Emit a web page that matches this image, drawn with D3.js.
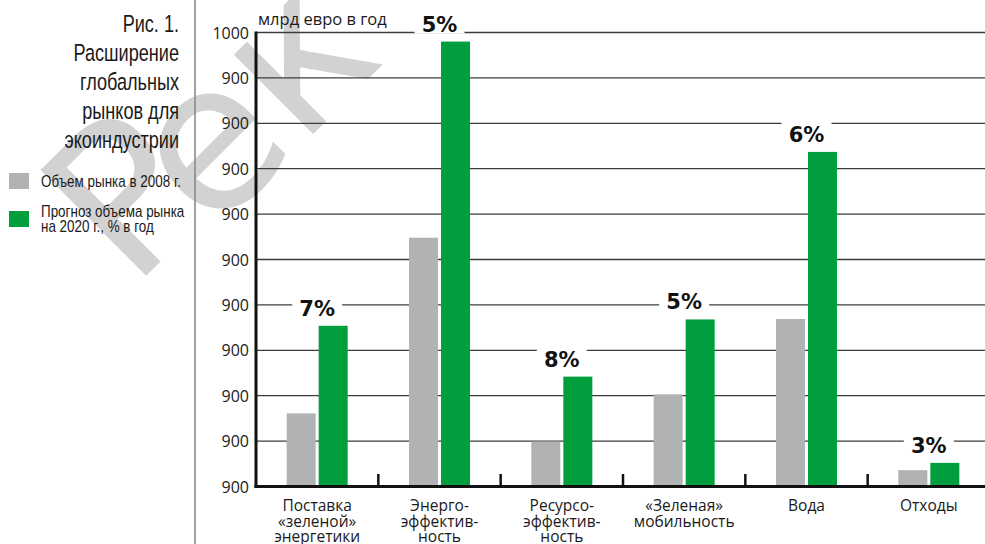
<!DOCTYPE html>
<html><head><meta charset="utf-8">
<script src="https://cdn.jsdelivr.net/npm/d3@7"></script>
<style>
html,body{margin:0;padding:0;background:#fff;}
svg{display:block;}
</style></head>
<body>
<svg id="chart" width="985" height="544"></svg>
<script>
const categories = [
  ["Поставка", "«зеленой»", "энергетики"],
  ["Энерго-", "эффектив-", "ность"],
  ["Ресурсо-", "эффектив-", "ность"],
  ["«Зеленая»", "мобильность"],
  ["Вода"],
  ["Отходы"]
];
const values2008 = [161, 548, 99, 203, 369, 36];
const values2020 = [354, 980, 242, 368, 737, 52];
const growthLabels = ["7%", "5%", "8%", "5%", "6%", "3%"];
const tickValues = [0, 100, 200, 300, 400, 500, 600, 700, 800, 900, 1000];
const tickLabels = ["900", "900", "900", "900", "900", "900", "900", "900", "900", "900", "1000"];
const titleLines = ["Рис. 1.", "Расширение", "глобальных", "рынков для", "экоиндустрии"];
const legendLabels = [["Объем рынка в 2008 г."], ["Прогноз объема рынка", "на 2020 г., % в год"]];
const seriesColors = ["#b1b2b4", "#009e3d"];
const unitLabel = "млрд евро в год";
const watermarkLetters = ["Р", "ек"];

const svg = d3.select("#chart");
const narrow = "'Liberation Sans', Arial, sans-serif";
const sans = "'Open Sans', 'Liberation Sans', sans-serif";
const heavy = "'DejaVu Sans', sans-serif";

// watermark
const wm = svg.append("text")
  .attr("transform", "translate(132,290) rotate(-45)")
  .attr("font-family", "'DejaVu Sans', sans-serif")
  .attr("font-size", 205)
  .attr("fill", "#d2d2d2");
wm.append("tspan").text(watermarkLetters[0]);
wm.append("tspan").attr("dx", -30).attr("dy", 18).text(watermarkLetters[1]);

// left divider
svg.append("line").attr("x1", 195).attr("x2", 195).attr("y1", 0).attr("y2", 544)
  .attr("stroke", "#8a8a8a").attr("stroke-width", 1.6);

// title (condensed look)
svg.append("g").attr("transform", "translate(179,0) scale(0.77,1)")
  .selectAll("text").data(titleLines).join("text")
  .attr("x", 0).attr("y", (d, i) => 32 + i * 29)
  .attr("text-anchor", "end")
  .attr("font-family", narrow).attr("font-size", 23.5).attr("fill", "#1a1a1a")
  .text(d => d);

// legend
const lg = svg.append("g");
lg.selectAll("rect").data(seriesColors).join("rect")
  .attr("x", 9).attr("y", (d, i) => 173 + i * 38).attr("width", 20).attr("height", 16)
  .attr("fill", d => d);
const lgt = svg.append("g").attr("transform", "translate(41,0) scale(0.84,1)");
lgt.append("text").attr("x", 0).attr("y", 187).attr("font-family", narrow).attr("font-size", 16).attr("fill", "#1a1a1a").text(legendLabels[0][0]);
lgt.append("text").attr("x", 0).attr("y", 217).attr("font-family", narrow).attr("font-size", 16).attr("fill", "#1a1a1a").text(legendLabels[1][0]);
lgt.append("text").attr("x", 0).attr("y", 232).attr("font-family", narrow).attr("font-size", 16).attr("fill", "#1a1a1a").text(legendLabels[1][1]);

// scales
const x0 = 256, x1 = 990;
const y = d3.scaleLinear().domain([0, 1000]).range([486.5, 32.5]);
const x = d3.scaleBand().domain(d3.range(categories.length)).range([x0, x1]).paddingInner(0).paddingOuter(0);
const barW = 29, gap = 3;

// gridlines
svg.append("g").selectAll("line").data(tickValues.slice(1)).join("line")
  .attr("x1", x0).attr("x2", 985)
  .attr("y1", d => y(d)).attr("y2", d => y(d))
  .attr("stroke", "#3c3c3c").attr("stroke-width", 1.3);

// y axis
const yAxis = d3.axisLeft(y).tickValues(tickValues).tickSize(0).tickPadding(7)
  .tickFormat((d, i) => tickLabels[i]);
const ya = svg.append("g").attr("transform", `translate(${x0},0)`).call(yAxis);
ya.select(".domain").remove();
ya.selectAll("text").attr("font-family", sans).attr("font-size", 16).attr("fill", "#1a1a1a").attr("dy", "0.35em");

svg.append("text").attr("x", 258).attr("y", 25).attr("font-family", sans).attr("font-size", 16.5)
  .attr("fill", "#1a1a1a").text(unitLabel);

// bars
const bars = svg.append("g");
bars.selectAll("rect.g08").data(values2008).join("rect").attr("class", "g08")
  .attr("x", (d, i) => x(i) + x.bandwidth() / 2 - gap / 2 - barW)
  .attr("width", barW)
  .attr("y", d => y(d)).attr("height", d => y(0) - y(d))
  .attr("fill", seriesColors[0]);
bars.selectAll("rect.g20").data(values2020).join("rect").attr("class", "g20")
  .attr("x", (d, i) => x(i) + x.bandwidth() / 2 + gap / 2)
  .attr("width", barW)
  .attr("y", d => y(d)).attr("height", d => y(0) - y(d))
  .attr("fill", seriesColors[1]);

// percent labels
const pl = svg.append("g").selectAll("g").data(values2020).join("g")
  .attr("transform", (d, i) => `translate(${x(i) + x.bandwidth() / 2},${y(d) - 10})`);
pl.append("rect").attr("x", -25).attr("y", -20).attr("width", 50).attr("height", 22).attr("fill", "#fff");
pl.append("text").attr("text-anchor", "middle")
  .attr("font-family", heavy).attr("font-weight", "bold").attr("font-size", 21).attr("fill", "#111")
  .text((d, i) => growthLabels[i]);

// axes lines
svg.append("line").attr("x1", x0).attr("x2", x0).attr("y1", 31.5).attr("y2", 488)
  .attr("stroke", "#111").attr("stroke-width", 3);
svg.append("line").attr("x1", x0 - 1.5).attr("x2", 985).attr("y1", 486.5).attr("y2", 486.5)
  .attr("stroke", "#111").attr("stroke-width", 3);
svg.append("g").selectAll("line").data(d3.range(1, categories.length)).join("line")
  .attr("x1", d => x(d)).attr("x2", d => x(d)).attr("y1", 474).attr("y2", 486)
  .attr("stroke", "#111").attr("stroke-width", 2.5);

// category labels
const cl = svg.append("g").selectAll("text").data(categories).join("text")
  .attr("text-anchor", "middle")
  .attr("font-family", sans).attr("font-size", 15.5).attr("fill", "#1a1a1a");
cl.selectAll("tspan").data((d, i) => d.map(t => ({t, i}))).join("tspan")
  .attr("x", d => x(d.i) + x.bandwidth() / 2)
  .attr("y", (d, j) => 511 + j * 15.5)
  .text(d => d.t);
</script>
</body></html>
